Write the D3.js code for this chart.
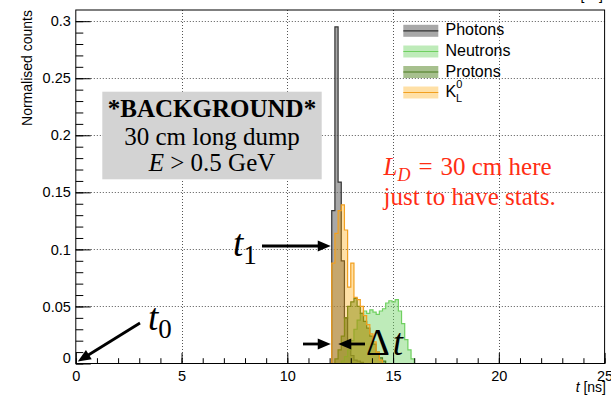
<!DOCTYPE html>
<html>
<head>
<meta charset="utf-8">
<script src="https://cdn.jsdelivr.net/npm/d3@7/dist/d3.min.js"></script>
<style>
  html, body { margin: 0; padding: 0; background: #fff; }
  svg { display: block; }
</style>
</head>
<body>
<svg id="chart" width="611" height="396"></svg>
<script>
// Time-of-flight distributions behind the dump (normalised per species)
const firstBinEdge = 12.1;     // ns
const binWidth = 0.15;         // ns

const photons   = [0.134, 0.295, 0.159, 0.090, 0.040, 0.016, 0.007, 0.003, 0.002, 0.001, 0, 0, 0, 0, 0, 0, 0, 0, 0, 0, 0, 0, 0, 0, 0, 0, 0];
const neutrons  = [0, 0, 0, 0.002, 0.006, 0.012, 0.020, 0.030, 0.038, 0.044, 0.046, 0.044, 0.047, 0.045, 0.043, 0.046, 0.048, 0.053, 0.055, 0.054, 0.056, 0.046, 0.035, 0.021, 0.012, 0.004, 0];
const protons   = [0, 0.004, 0.012, 0.024, 0.040, 0.050, 0.054, 0.057, 0.050, 0.044, 0.037, 0.031, 0.024, 0.017, 0.010, 0.005, 0.002, 0, 0, 0, 0, 0, 0, 0, 0, 0, 0];
const kaonsL    = [0.088, 0.114, 0.134, 0.139, 0.117, 0.067, 0.088, 0.058, 0.056, 0.050, 0.042, 0.034, 0.026, 0.019, 0.010, 0.003, 0, 0, 0, 0, 0, 0, 0, 0, 0, 0, 0];

const xTicks = [0, 5, 10, 15, 20, 25];
const yTicks = [0, 0.05, 0.1, 0.15, 0.2, 0.25, 0.3];
const xMinor = d3.range(0, 26, 1);
const yMinor = d3.range(0, 0.31, 0.01);

const series = [
  { name: "Photons",  values: photons,  fill: "rgba(110,110,110,0.6)",  line: "#333333" },
  { name: "Neutrons", values: neutrons, fill: "rgba(110,210,100,0.45)", line: "#6fd060" },
  { name: "Protons",  values: protons,  fill: "rgba(80,130,30,0.5)",    line: "#4a7a1e" },
  { name: "K",        values: kaonsL,   fill: "rgba(255,165,0,0.35)",   line: "#f2a020" }
];

const svg = d3.select("#chart");
const sans = "'Liberation Sans', Arial, Helvetica, sans-serif";
const serif = "'Liberation Serif', 'Times New Roman', serif";

const x = d3.scaleLinear().domain([0, 25]).range([75.8, 604.6]);
const y = d3.scaleLinear().domain([0, 0.3098]).range([363.5, 10]);
const [x0, x1] = x.range();
const [yb, yt] = y.range();

// dotted grid
const grid = svg.append("g").attr("stroke", "#555").attr("stroke-width", 1).attr("stroke-dasharray", "1,2");
grid.selectAll("line.v").data(xTicks.slice(1, -1)).join("line")
  .attr("x1", d => Math.round(x(d)) + 0.5).attr("x2", d => Math.round(x(d)) + 0.5)
  .attr("y1", yt).attr("y2", yb);
grid.selectAll("line.h").data(yTicks.slice(1)).join("line")
  .attr("x1", x0).attr("x2", x1)
  .attr("y1", d => Math.round(y(d)) + 0.5).attr("y2", d => Math.round(y(d)) + 0.5);

// histograms as filled step outlines
function stepPoints(values) {
  const pts = [[firstBinEdge, 0]];
  values.forEach((v, i) => {
    const lo = firstBinEdge + i * binWidth;
    pts.push([lo, v], [lo + binWidth, v]);
  });
  pts.push([firstBinEdge + values.length * binWidth, 0]);
  return pts;
}
const line = d3.line().x(d => x(d[0])).y(d => y(d[1]));
const hist = svg.append("g");
series.forEach(s => {
  const pts = stepPoints(s.values);
  hist.append("path").attr("d", line(pts) + "Z").attr("fill", s.fill).attr("stroke", "none");
  hist.append("path").attr("d", line(pts)).attr("fill", "none").attr("stroke", s.line).attr("stroke-width", 1.2);
});

// axes: ticks point inward
const axes = svg.append("g").attr("font-family", sans);
const xMinorAxis = d3.axisBottom(x).tickValues(xMinor).tickSize(-5.3).tickFormat("");
const xMajorAxis = d3.axisBottom(x).tickValues(xTicks).tickSize(-10.6).tickPadding(7.2).tickFormat(d3.format("d"));
const yMinorAxis = d3.axisLeft(y).tickValues(yMinor).tickSize(-7.5).tickFormat("");
const yMajorAxis = d3.axisLeft(y).tickValues(yTicks).tickSize(-15).tickPadding(5).tickFormat(d => d === 0 ? "0" : String(+d.toFixed(2)));

[xMinorAxis, xMajorAxis].forEach(a => {
  axes.append("g").attr("transform", `translate(0,${yb})`).call(a)
    .call(g => g.select(".domain").remove());
});
[yMinorAxis, yMajorAxis].forEach(a => {
  axes.append("g").attr("class", "yaxis").attr("transform", `translate(${x0},0)`).call(a)
    .call(g => g.select(".domain").remove());
});
axes.selectAll("text").attr("font-size", 14.5).attr("font-family", sans).attr("fill", "#000");
axes.selectAll(".tick line").attr("stroke", "#000");
// y-axis zero label sits a little above its tick
axes.selectAll(".yaxis .tick").filter(d => d === 0).select("text").attr("dy", "-0.1em");

// frame
svg.append("rect").attr("x", x0).attr("y", yt).attr("width", x1 - x0).attr("height", yb - yt)
  .attr("fill", "none").attr("stroke", "#000").attr("stroke-width", 1);

// axis titles
svg.append("text").attr("transform", `translate(32,${yt}) rotate(-90)`)
  .attr("text-anchor", "end").attr("font-family", sans).attr("font-size", 14).text("Normalised counts");
const xt = svg.append("text").attr("x", 606).attr("y", 392).attr("text-anchor", "end")
  .attr("font-family", sans).attr("font-size", 14);
xt.append("tspan").attr("font-style", "italic").text("t");
xt.append("tspan").text(" [ns]");
svg.append("text").attr("x", 603).attr("y", 0).attr("text-anchor", "end")
  .attr("font-family", sans).attr("font-size", 14).text("[ns]");

// legend
const legend = svg.append("g").attr("font-family", sans).attr("font-size", 16);
const legendY = [30.8, 51.5, 72, 92.5];
series.forEach((s, i) => {
  const cy = legendY[i];
  legend.append("rect").attr("x", 403.3).attr("y", cy - 6).attr("width", 35).attr("height", 12).attr("fill", s.fill);
  legend.append("line").attr("x1", 403.3).attr("x2", 438.3).attr("y1", cy).attr("y2", cy)
    .attr("stroke", s.line).attr("stroke-width", 1.2);
  const t = legend.append("text").attr("x", 445.5).attr("y", cy + 4.5);
  if (s.name === "K") {
    t.append("tspan").text("K");
    t.append("tspan").attr("font-size", 11).attr("dy", -9).text("0");
    t.append("tspan").attr("font-size", 11).attr("dx", -6.2).attr("dy", 14).text("L");
  } else {
    t.text(s.name);
  }
});

// info box
svg.append("rect").attr("x", 102.3).attr("y", 91.7).attr("width", 219.4).attr("height", 87.6).attr("fill", "#d3d3d3");
const box = svg.append("g").attr("font-family", serif).attr("font-size", 25).attr("text-anchor", "middle");
box.append("text").attr("x", 212).attr("y", 116.5).attr("font-weight", "bold").text("*BACKGROUND*");
box.append("text").attr("x", 212).attr("y", 145).text("30 cm long dump");
const e = box.append("text").attr("x", 212).attr("y", 170.5);
e.append("tspan").attr("font-style", "italic").text("E");
e.append("tspan").text(" > 0.5 GeV");

// red note
const red = "#ff2d14";
const note = svg.append("g").attr("font-family", serif).attr("font-size", 25).attr("fill", red);
const l1 = note.append("text").attr("x", 383.5).attr("y", 175);
l1.append("tspan").attr("font-style", "italic").text("L");
l1.append("tspan").attr("font-style", "italic").attr("font-size", 18).attr("dy", 6).text("D");
l1.append("tspan").attr("dy", -6).attr("dx", 8).text("=");
l1.append("tspan").attr("dx", 8).text("30 cm here");
note.append("text").attr("x", 383.5).attr("y", 205).text("just to have stats.");

// arrows and time markers
const ann = svg.append("g");
function arrow(xa, ya, xb, yb2) {
  const ang = Math.atan2(yb2 - ya, xb - xa);
  const L = 13, W = 5.5;
  const bx = xb - L * Math.cos(ang), by = yb2 - L * Math.sin(ang);
  ann.append("line").attr("x1", xa).attr("y1", ya).attr("x2", bx + 2 * Math.cos(ang)).attr("y2", by + 2 * Math.sin(ang))
    .attr("stroke", "#000").attr("stroke-width", 2.8);
  ann.append("polygon").attr("fill", "#000").attr("points", [
    [xb, yb2],
    [bx - W * Math.sin(ang), by + W * Math.cos(ang)],
    [bx + W * Math.sin(ang), by - W * Math.cos(ang)]
  ].map(p => p.join(",")).join(" "));
}
const tStart = x(firstBinEdge);
arrow(262, 246, tStart - 1, 246);
arrow(140, 323, x(0) + 2, y(0) - 2);
arrow(303, 344, tStart - 1, 344);
arrow(365, 344, tStart + 6.5, 344);

const math = svg.append("g").attr("font-family", serif).attr("fill", "#000");
const t1 = math.append("text").attr("x", 233).attr("y", 256).attr("font-size", 37);
t1.append("tspan").attr("font-style", "italic").text("t");
t1.append("tspan").attr("font-size", 27).attr("dy", 8).text("1");
const t0 = math.append("text").attr("x", 148).attr("y", 330).attr("font-size", 37);
t0.append("tspan").attr("font-style", "italic").text("t");
t0.append("tspan").attr("font-size", 27).attr("dy", 8).text("0");
const dt = math.append("text").attr("x", 366).attr("y", 354.5).attr("font-size", 37);
dt.append("tspan").text("Δ");
dt.append("tspan").attr("font-style", "italic").attr("dx", 3).text("t");
</script>
</body>
</html>
